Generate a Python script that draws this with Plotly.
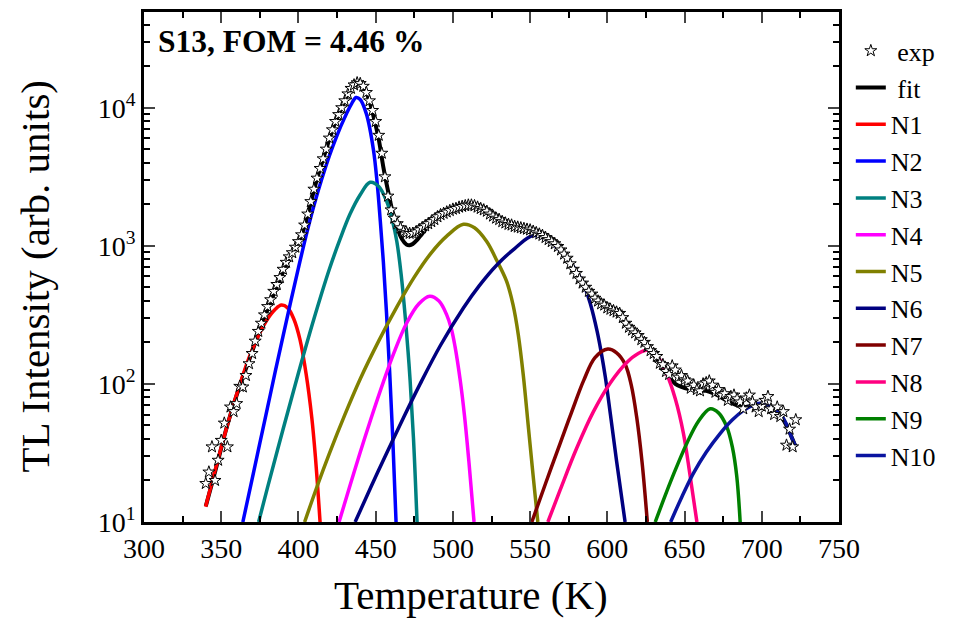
import plotly.graph_objects as go

# ---------------- data ----------------
T_exp = list(range(340, 723, 2))
I_exp = [19, 23, 35, 20, 28, 39, 52, 35, 68, 63, 72, 96, 95, 115, 140, 166, 204, 240, 275, 316,
         363, 407, 468, 525, 589, 676, 759, 832, 891, 977, 1072, 1202, 1413, 1698, 2089, 2570, 3090, 3630, 4266, 5012,
         6026, 6918, 7943, 8913, 10000, 11220, 12590, 13800, 14620, 15140, 14960, 14290, 12880, 11220, 9550, 7940, 6310, 4680, 3160, 2290,
         1820, 1585, 1445, 1350, 1274, 1245, 1230, 1230, 1259, 1303, 1349, 1396, 1445, 1496, 1549, 1622, 1679, 1718, 1758, 1799,
         1841, 1862, 1905, 1928, 1950, 1972, 1972, 1950, 1905, 1862, 1820, 1778, 1698, 1641, 1585, 1549, 1496, 1462, 1429, 1413,
         1380, 1365, 1349, 1334, 1318, 1303, 1274, 1245, 1216, 1189, 1148, 1109, 1072, 1035, 989, 933, 871, 813, 741, 676,
         631, 575, 537, 501, 468, 447, 417, 398, 380, 372, 355, 347, 339, 331, 324, 302, 275, 257, 245, 234,
         224, 209, 200, 186, 174, 166, 158, 141, 138, 123, 117, 135, 126, 112, 115, 107, 105, 93, 98, 91,
         89, 100, 102, 105, 98, 87, 91, 83, 85, 76, 81, 83, 78, 74, 66, 79, 83, 74, 68, 63,
         69, 76, 81, 66, 60, 68, 58, 63, 36, 47, 35, 55]

T_fit = [340, 344, 348, 352, 356, 360, 364, 368, 372, 376, 380, 384, 388, 392, 396, 400, 404, 408, 412, 416,
         420, 424, 428, 432, 436, 438, 440, 443, 446, 449, 452, 455, 458, 461, 464, 467, 470, 472, 474, 477,
         480, 484, 488, 492, 496, 500, 504, 508, 512, 516, 520, 524, 528, 532, 536, 540, 544, 548, 552, 556,
         560, 564, 568, 572, 576, 580, 584, 588, 592, 596, 600, 604, 608, 612, 616, 620, 624, 628, 632, 636,
         640, 644, 648, 652, 656, 660, 664, 668, 672, 676, 680, 684, 688, 692, 696, 700, 704, 708, 712, 716,
         719, 722]
I_fit = [13, 19, 28, 42, 60, 83, 112, 148, 198, 262, 345, 445, 570, 720, 880, 1060, 1380, 2050, 3050, 4250,
         5900, 7900, 10000, 12500, 14500, 15000, 14850, 13600, 11100, 8300, 5900, 3700, 2500, 1750, 1350, 1120, 1020, 1010, 1030, 1110,
         1220, 1380, 1520, 1650, 1750, 1830, 1900, 1950, 1965, 1910, 1820, 1700, 1580, 1490, 1425, 1380, 1345, 1315, 1280, 1220,
         1150, 1075, 990, 875, 745, 635, 540, 470, 420, 380, 355, 338, 320, 278, 245, 222, 198, 172, 152, 130,
         112, 100, 95, 92, 91, 90, 89, 86, 82, 77, 73, 70, 68, 69, 71, 71, 69, 65, 59, 50,
         42, 35]

T_N1 = [339.9, 345, 350, 355, 360, 365, 370, 375, 380, 385, 389, 393, 397, 401, 405, 408.6, 411, 414]
I_N1 = [12.9, 21.4, 34.7, 55, 84, 124.5, 176, 234, 295, 347, 372, 355, 295, 209, 117.5, 57.5, 29.5, 10]

T_N2 = [364, 370, 375, 380, 385, 390, 395, 400, 405, 410, 415, 420, 425, 430, 434, 437.3, 440, 444,
        448.5, 451, 453, 455, 457, 459, 461, 463.2]
I_N2 = [10, 20.4, 37.2, 67.6, 123, 221, 394, 692, 1190, 1950, 3020, 4470, 6310, 8510, 10470, 11860, 11480, 9020,
        5010, 2820, 1510, 760, 330, 126, 42, 10]

T_N3 = [374.2, 380, 390, 400, 410, 420, 427, 433.4, 440, 446.4, 452, 457.2, 461, 463.7, 466.5, 469, 471, 472.3, 474.5, 476.8]
I_N3 = [10, 17.8, 46.8, 120, 295, 676, 1122, 1698, 2344, 2884, 2692, 2089, 1500, 1074, 620, 319, 170, 106, 40, 10]

T_N4 = [426.3, 433, 440, 447, 455, 462, 470, 478, 485, 491, 496, 499, 501.4, 504.7, 507.5, 510.5, 513.7]
I_N4 = [10, 17.8, 32, 56.2, 103.5, 170, 275, 380, 431, 398, 316, 251, 186, 107, 59, 26.3, 10]

T_N5 = [404, 412, 420, 430, 440, 452, 464, 475, 486, 496, 506.8, 514, 521.9, 528, 534.8, 539, 542.3, 545.6, 549, 552, 555]
I_N5 = [10, 18, 31.3, 59.7, 108.6, 205, 366, 593, 889, 1175, 1430, 1350, 1074, 800, 553, 372, 229, 115, 47, 21.4, 10]

T_N6 = [436.7, 447, 458, 468, 478.8, 492, 506.8, 517, 528.3, 540, 552, 562, 571.7, 578, 584.7, 589, 593.4, 596, 598.7, 602, 606, 611.5]
I_N6 = [10, 18, 33.1, 56.9, 100, 190.5, 355, 513, 724, 955, 1186, 1084, 871, 708, 525, 380, 240, 170, 112, 60, 27.5, 10]

T_N7 = [551.1, 560, 569.4, 577, 584.7, 592, 600.3, 606, 611.5, 615.5, 619, 622.5, 625.9]
I_N7 = [10, 19, 37, 63, 106, 155, 179, 168, 139, 98, 57.5, 27, 10]

T_N8 = [561.5, 569.4, 580, 591, 602, 612.6, 620, 626.6, 633, 638.5, 644, 649.3, 653.5, 658]
I_N8 = [10, 17, 33.9, 63, 102, 143, 166, 176, 155, 118, 78, 43.7, 22, 10]

T_N9 = [631, 636, 640.7, 646, 651.5, 659, 666.6, 672, 677.3, 681, 683.8, 686]
I_N9 = [10, 14.1, 19.3, 26.9, 37.2, 53.7, 66, 61.7, 49, 34.7, 21.4, 10]

T_N10 = [641, 648, 655.7, 664, 673, 681, 688, 694, 699, 705, 709, 712, 716, 719, 722]
I_N10 = [10, 15, 22.5, 32, 43.7, 55, 64, 70, 72.4, 69, 65, 61, 51, 42, 35]

comp_names = ["N1", "N2", "N3", "N4", "N5", "N6", "N7", "N8", "N9", "N10"]
comp_T = [T_N1, T_N2, T_N3, T_N4, T_N5, T_N6, T_N7, T_N8, T_N9, T_N10]
comp_I = [I_N1, I_N2, I_N3, I_N4, I_N5, I_N6, I_N7, I_N8, I_N9, I_N10]
comp_colors = ["#FF0000", "#0000FF", "#008080", "#FF00FF", "#808000",
               "#000080", "#800000", "#FF0080", "#008000", "#0A14A0"]

x_ticks = [300, 350, 400, 450, 500, 550, 600, 650, 700, 750]
y_ticks = [10, 100, 1000, 10000]
y_ticktext = ["10<sup>1</sup>", "10<sup>2</sup>", "10<sup>3</sup>", "10<sup>4</sup>"]

FONT = "Liberation Serif"

fig = go.Figure()

fig.add_trace(go.Scatter(x=T_fit, y=I_fit, mode="lines", name=" fit",
                         line=dict(color="black", width=4, shape="spline"),
                         legendgroup="fit", legendrank=2))
for k, (nm, tt, ii, cc) in enumerate(zip(comp_names, comp_T, comp_I, comp_colors)):
    fig.add_trace(go.Scatter(x=tt, y=ii, mode="lines", name=nm,
                             line=dict(color=cc, width=3.5, shape="spline"),
                             legendgroup=nm, legendrank=3 + k))
fig.add_trace(go.Scatter(x=T_exp, y=I_exp, mode="markers", name=" exp",
                         marker=dict(symbol="star", size=9, color="white",
                                     line=dict(color="black", width=1)),
                         legendgroup="exp", legendrank=1))

minor_y = [m * 10 ** e for e in range(1, 5) for m in range(2, 10)]

fig.update_layout(
    width=973, height=630,
    margin=dict(l=144, r=134, t=9, b=108),
    paper_bgcolor="white", plot_bgcolor="white",
    font=dict(family=FONT, color="black", size=26),
    showlegend=True,
    legend=dict(x=1.017, y=0.970, xanchor="left", yanchor="top",
                font=dict(family=FONT, size=26, color="black"),
                bgcolor="rgba(0,0,0,0)", tracegroupgap=0, itemwidth=30),
    xaxis=dict(range=[300, 750], tickvals=x_ticks, ticks="inside", ticklen=11, tickwidth=2,
               showline=True, linecolor="black", linewidth=2.5, mirror="allticks",
               showgrid=False, zeroline=False,
               tickfont=dict(family=FONT, size=28, color="black"),
               minor=dict(dtick=25, tick0=300, ticks="inside", ticklen=6, tickwidth=2, tickcolor="black")),
    yaxis=dict(type="log", range=[1, 4.693], tickvals=y_ticks, ticktext=y_ticktext,
               ticks="inside", ticklen=11, tickwidth=2,
               showline=True, linecolor="black", linewidth=2.5, mirror="allticks",
               showgrid=False, zeroline=False,
               tickfont=dict(family=FONT, size=28, color="black"),
               minor=dict(tickvals=minor_y, ticks="inside", ticklen=6, tickwidth=2, tickcolor="black")),
    annotations=[
        dict(text="<b>S13, FOM = 4.46 %</b>", xref="paper", yref="paper", x=0.017, y=0.942,
             xanchor="left", yanchor="middle", showarrow=False,
             font=dict(family=FONT, size=31.5, color="black")),
        dict(text="Temperature (K)", xref="paper", yref="paper", x=(471 - 144) / 695, y=-0.143,
             xanchor="center", yanchor="middle", showarrow=False,
             font=dict(family=FONT, size=41, color="black")),
        dict(text="TL Intensity (arb. units)", xref="paper", yref="paper", x=(35 - 144) / 695, y=(522 - 275) / 513,
             xanchor="center", yanchor="middle", showarrow=False, textangle=-90,
             font=dict(family=FONT, size=41, color="black")),
    ],
)

fig.write_html("out.html")
